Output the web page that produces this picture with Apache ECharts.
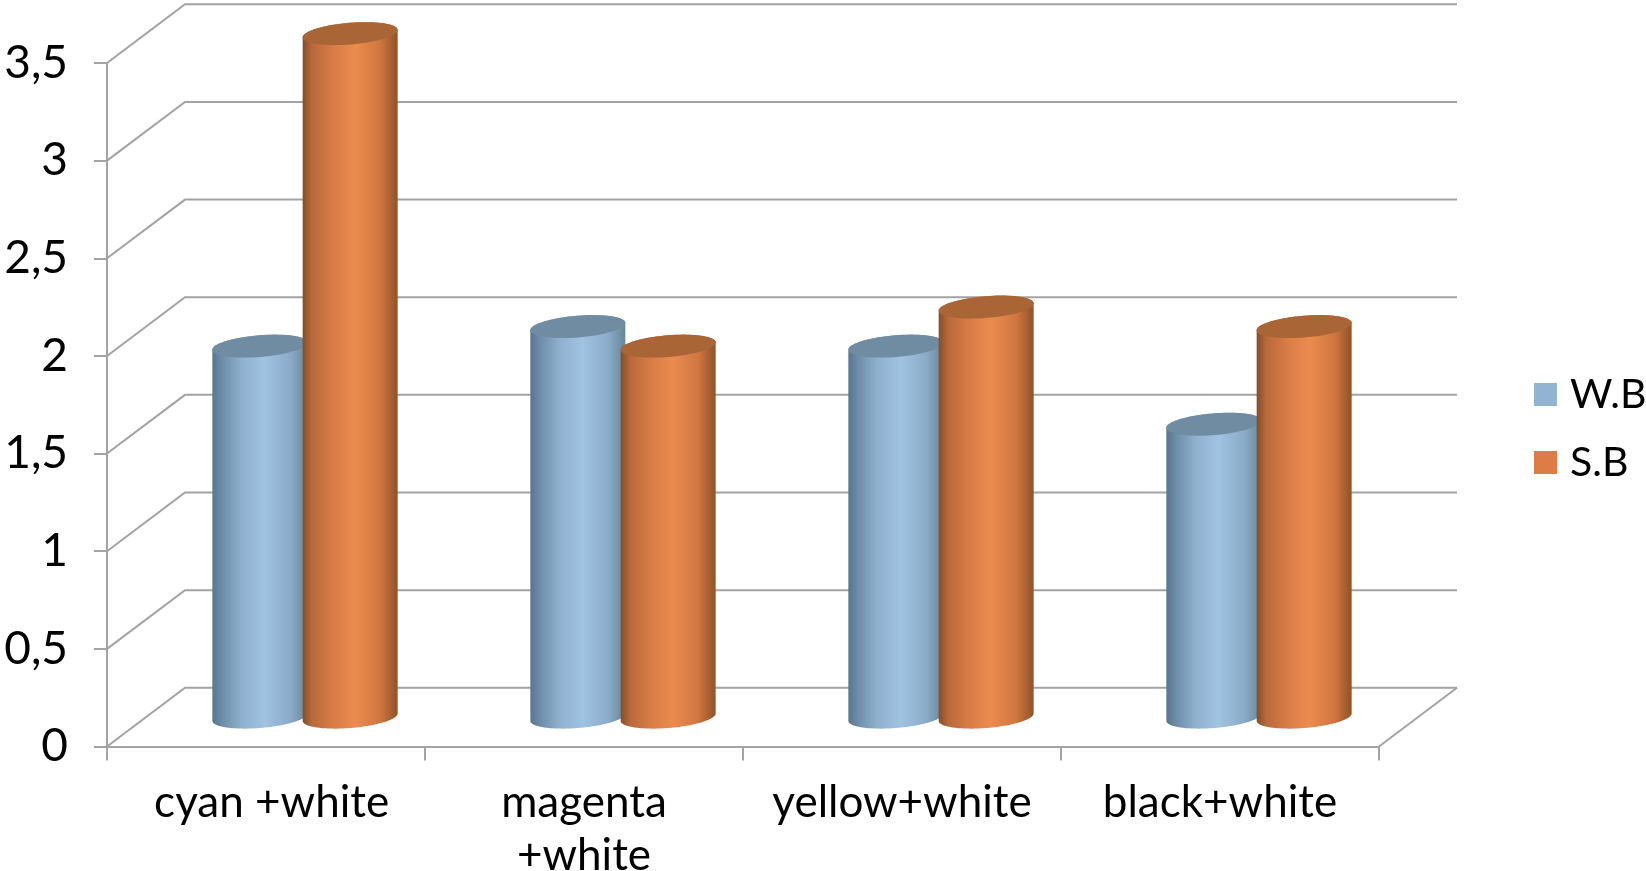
<!DOCTYPE html>
<html>
<head>
<meta charset="utf-8">
<style>html,body{margin:0;padding:0;background:#fff}#chart{width:1646px;height:871px}</style>
<script src="https://cdn.jsdelivr.net/npm/echarts@6/dist/echarts.min.js"></script>
</head>
<body>
<div id="chart"></div>
<script>
const categories = [' cyan +white', 'magenta\n+white', 'yellow+white', 'black+white'];
const seriesNames = ['W.B', 'S.B'];
const wbValues = [1.9, 2, 1.9, 1.5];
const sbValues = [3.5, 1.9, 2.1, 2];
const yTicks = [0, 0.5, 1, 1.5, 2, 2.5, 3, 3.5];

const FONT = 'Lato';
const LINE = '#a3a3a3';
// Oblique projection of the chart box: how far the back wall sits from the front plane.
const DEPTH_X = 78, DEPTH_Y = 58.7;
// Cylinder cross-section, as fractions of one category band.
const HALF_W = 0.1415, SKEW = 0.0478, HALF_H = 11.5, BAR_SHIFT = 0.142;

const BLUE_SIDE = [[0, '#567690'], [0.1, '#6c8ca8'], [0.3, '#8fb0cd'], [0.55, '#a0c3e2'], [0.82, '#8babc8'], [1, '#688699']];
const ORANGE_SIDE = [[0, '#874d26'], [0.1, '#b8693a'], [0.3, '#d67a45'], [0.55, '#ec8b4f'], [0.82, '#cf7640'], [1, '#8f5229']];

function ellipsePoint(cx, cy, a, b, t) {
  return [cx + a * Math.cos(t) + b * Math.sin(t), cy - HALF_H * Math.sin(t)];
}

// One series of cylinders: a side wall with a horizontal sheen and a darker elliptical cap.
function cylinder(direction, stops, capColor) {
  return function (params, api) {
    const band = api.size([1, 0])[0];
    const a = band * HALF_W, b = band * SKEW;
    const shiftX = DEPTH_X / 2 + direction * band * BAR_SHIFT;
    const top = api.coord([api.value(0), api.value(1)]);
    const base = api.coord([api.value(0), 0]);
    const cx = top[0] + shiftX;
    const topY = top[1] - DEPTH_Y / 2;
    const baseY = base[1] - DEPTH_Y / 2;
    const t0 = Math.atan2(b, a);

    const side = [];
    // lower arc of the base, left tangent to right tangent
    for (let i = 0; i <= 40; i++) {
      const t = Math.PI + t0 + (i / 40) * Math.PI;
      side.push(ellipsePoint(cx, baseY, a, b, t));
    }
    // upper silhouette closes along the cap
    for (let i = 0; i <= 40; i++) {
      const t = t0 + (i / 40) * Math.PI;
      side.push(ellipsePoint(cx, topY, a, b, t));
    }
    const cap = [];
    for (let i = 0; i < 72; i++) {
      cap.push(ellipsePoint(cx, topY, a, b, (i / 72) * 2 * Math.PI));
    }
    return {
      type: 'group',
      children: [
        {
          type: 'polygon',
          shape: { points: side },
          style: {
            fill: {
              type: 'linear', x: 0, y: 0, x2: 1, y2: 0,
              colorStops: stops.map(s => ({ offset: s[0], color: s[1] }))
            }
          }
        },
        { type: 'polygon', shape: { points: cap }, style: { fill: capColor } }
      ]
    };
  };
}

// Back wall gridlines, their receding edges, and the right edge of the floor.
function wallLines(params, api) {
  const v = api.value(1);
  const y = api.coord([0, v])[1];
  const left = params.coordSys.x, right = left + params.coordSys.width;
  const style = { stroke: LINE, lineWidth: 2, fill: null };
  const children = [
    {
      type: 'polyline',
      shape: { points: [[left, y], [left + DEPTH_X, y - DEPTH_Y], [right + DEPTH_X, y - DEPTH_Y]] },
      style
    }
  ];
  if (v === 0) {
    children.push({
      type: 'line',
      shape: { x1: right, y1: y, x2: right + DEPTH_X, y2: y - DEPTH_Y },
      style
    });
  }
  return { type: 'group', children };
}

const option = {
  animation: false,
  backgroundColor: '#ffffff',
  textStyle: { fontFamily: FONT },
  grid: { left: 107, top: 63, width: 1272, height: 683.5, outerBoundsMode: 'none' },
  legend: {
    orient: 'vertical',
    left: 1534,
    top: 374,
    padding: 0,
    icon: 'rect',
    itemWidth: 23,
    itemHeight: 23,
    itemGap: 27,
    data: seriesNames,
    textStyle: { fontFamily: FONT, fontSize: 41, color: '#000000', padding: [0, 0, 0, 8] }
  },
  xAxis: {
    type: 'category',
    data: categories,
    boundaryGap: true,
    axisLine: { lineStyle: { color: LINE, width: 2 } },
    axisTick: { show: true, length: 14, alignWithLabel: false, lineStyle: { color: LINE, width: 2 } },
    axisLabel: { color: '#000', fontFamily: FONT, fontSize: 44, margin: 30, lineHeight: 53, interval: 0 }
  },
  yAxis: {
    type: 'value',
    min: 0,
    max: 3.5,
    interval: 0.5,
    splitLine: { show: false },
    axisLine: { show: true, lineStyle: { color: LINE, width: 2 } },
    axisTick: { show: true, length: 13, lineStyle: { color: LINE, width: 2 } },
    axisLabel: {
      color: '#000', fontFamily: FONT, fontSize: 46, margin: 39,
      formatter: v => String(v).replace('.', ',')
    }
  },
  series: [
    {
      type: 'custom',
      name: 'wall',
      silent: true,
      clip: false,
      z: 1,
      renderItem: wallLines,
      encode: { x: 0, y: 1 },
      data: yTicks.map(v => [0, v])
    },
    {
      type: 'custom',
      name: seriesNames[0],
      clip: false,
      z: 2,
      itemStyle: { color: '#92b4d2' },
      renderItem: cylinder(-1, BLUE_SIDE, '#6f8ca3'),
      encode: { x: 0, y: 1 },
      data: wbValues.map((v, i) => [i, v])
    },
    {
      type: 'custom',
      name: seriesNames[1],
      clip: false,
      z: 3,
      itemStyle: { color: '#dd7c44' },
      renderItem: cylinder(1, ORANGE_SIDE, '#a96535'),
      encode: { x: 0, y: 1 },
      data: sbValues.map((v, i) => [i, v])
    }
  ]
};

echarts.init(document.getElementById('chart'), null, { renderer: 'canvas' }).setOption(option);
</script>
</body>
</html>
